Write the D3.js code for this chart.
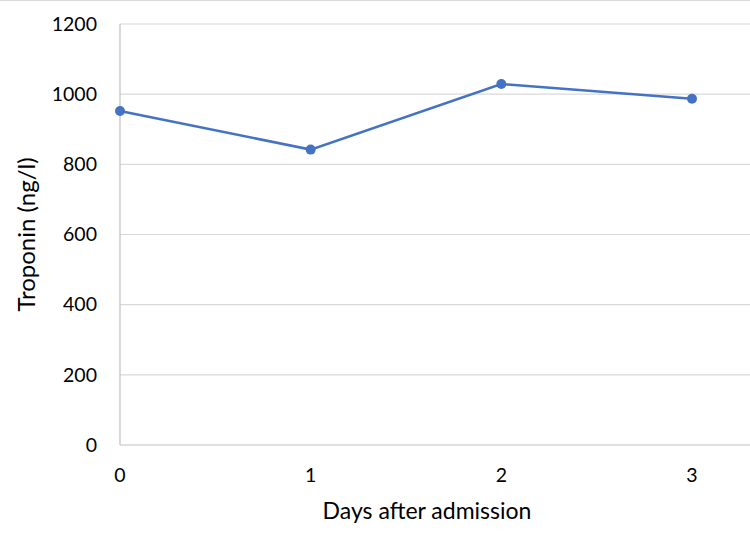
<!DOCTYPE html>
<html lang="en">
<head>
  <meta charset="UTF-8">
  <title>Troponin after admission</title>
  <script src="https://d3js.org/d3.v7.min.js"></script>
  <style>
    body { margin: 0; padding: 0; background: #fff; }
    svg { display: block; font-family: Lato, "Open Sans", sans-serif; }
  </style>
</head>
<body>
  <div id="chart"></div>
  <script>
    const days = [0, 1, 2, 3];
    const troponin = [952, 842, 1029, 987];
    const yTicks = [0, 200, 400, 600, 800, 1000, 1200];

    const width = 750;
    const height = 540;
    const margin = { top: 24, left: 120, bottom: 95 };

    const svg = d3.select("#chart").append("svg")
      .attr("width", width)
      .attr("height", height);

    // thin chart border at top
    svg.append("line")
      .attr("x1", 0).attr("x2", width)
      .attr("y1", 0.5).attr("y2", 0.5)
      .attr("stroke", "#d9d9d9");

    const x = d3.scaleLinear().domain([0, 3]).range([margin.left, 692]);
    const y = d3.scaleLinear().domain([0, 1200]).range([height - margin.bottom, margin.top]);

    // gridlines
    svg.append("g")
      .selectAll("line")
      .data(yTicks.filter(d => d > 0))
      .join("line")
      .attr("x1", margin.left).attr("x2", width)
      .attr("y1", d => y(d)).attr("y2", d => y(d))
      .attr("stroke", "#d9d9d9")
      .attr("stroke-width", 1.2);

    // axis lines
    svg.append("line")
      .attr("x1", margin.left).attr("x2", margin.left)
      .attr("y1", y(1200)).attr("y2", y(0))
      .attr("stroke", "#bfbfbf").attr("stroke-width", 1.2);
    svg.append("line")
      .attr("x1", margin.left).attr("x2", width)
      .attr("y1", y(0)).attr("y2", y(0))
      .attr("stroke", "#bfbfbf").attr("stroke-width", 1.2);

    // y tick labels
    svg.append("g")
      .selectAll("text")
      .data(yTicks)
      .join("text")
      .attr("x", 97)
      .attr("y", d => y(d))
      .attr("dy", "0.35em")
      .attr("text-anchor", "end")
      .attr("font-size", 19.5)
      .attr("fill", "#000")
      .text(d => d);

    // x tick labels
    svg.append("g")
      .selectAll("text")
      .data(days)
      .join("text")
      .attr("x", d => x(d))
      .attr("y", 475)
      .attr("dy", "0.35em")
      .attr("text-anchor", "middle")
      .attr("font-size", 19.5)
      .attr("fill", "#000")
      .text(d => d);

    // axis titles
    svg.append("text")
      .attr("x", 427)
      .attr("y", 511)
      .attr("dy", "0.35em")
      .attr("text-anchor", "middle")
      .attr("font-size", 23)
      .attr("fill", "#000")
      .text("Days after admission");

    svg.append("text")
      .attr("transform", `translate(27, ${(y(0) + y(1200)) / 2}) rotate(-90)`)
      .attr("dy", "0.35em")
      .attr("text-anchor", "middle")
      .attr("font-size", 24)
      .attr("fill", "#000")
      .text("Troponin (ng/l)");

    // series
    const line = d3.line()
      .x((d, i) => x(days[i]))
      .y(d => y(d));

    svg.append("path")
      .datum(troponin)
      .attr("d", line)
      .attr("fill", "none")
      .attr("stroke", "#4472C4")
      .attr("stroke-width", 2.5);

    svg.append("g")
      .selectAll("circle")
      .data(troponin)
      .join("circle")
      .attr("cx", (d, i) => x(days[i]))
      .attr("cy", d => y(d))
      .attr("r", 5)
      .attr("fill", "#4472C4");
  </script>
</body>
</html>
